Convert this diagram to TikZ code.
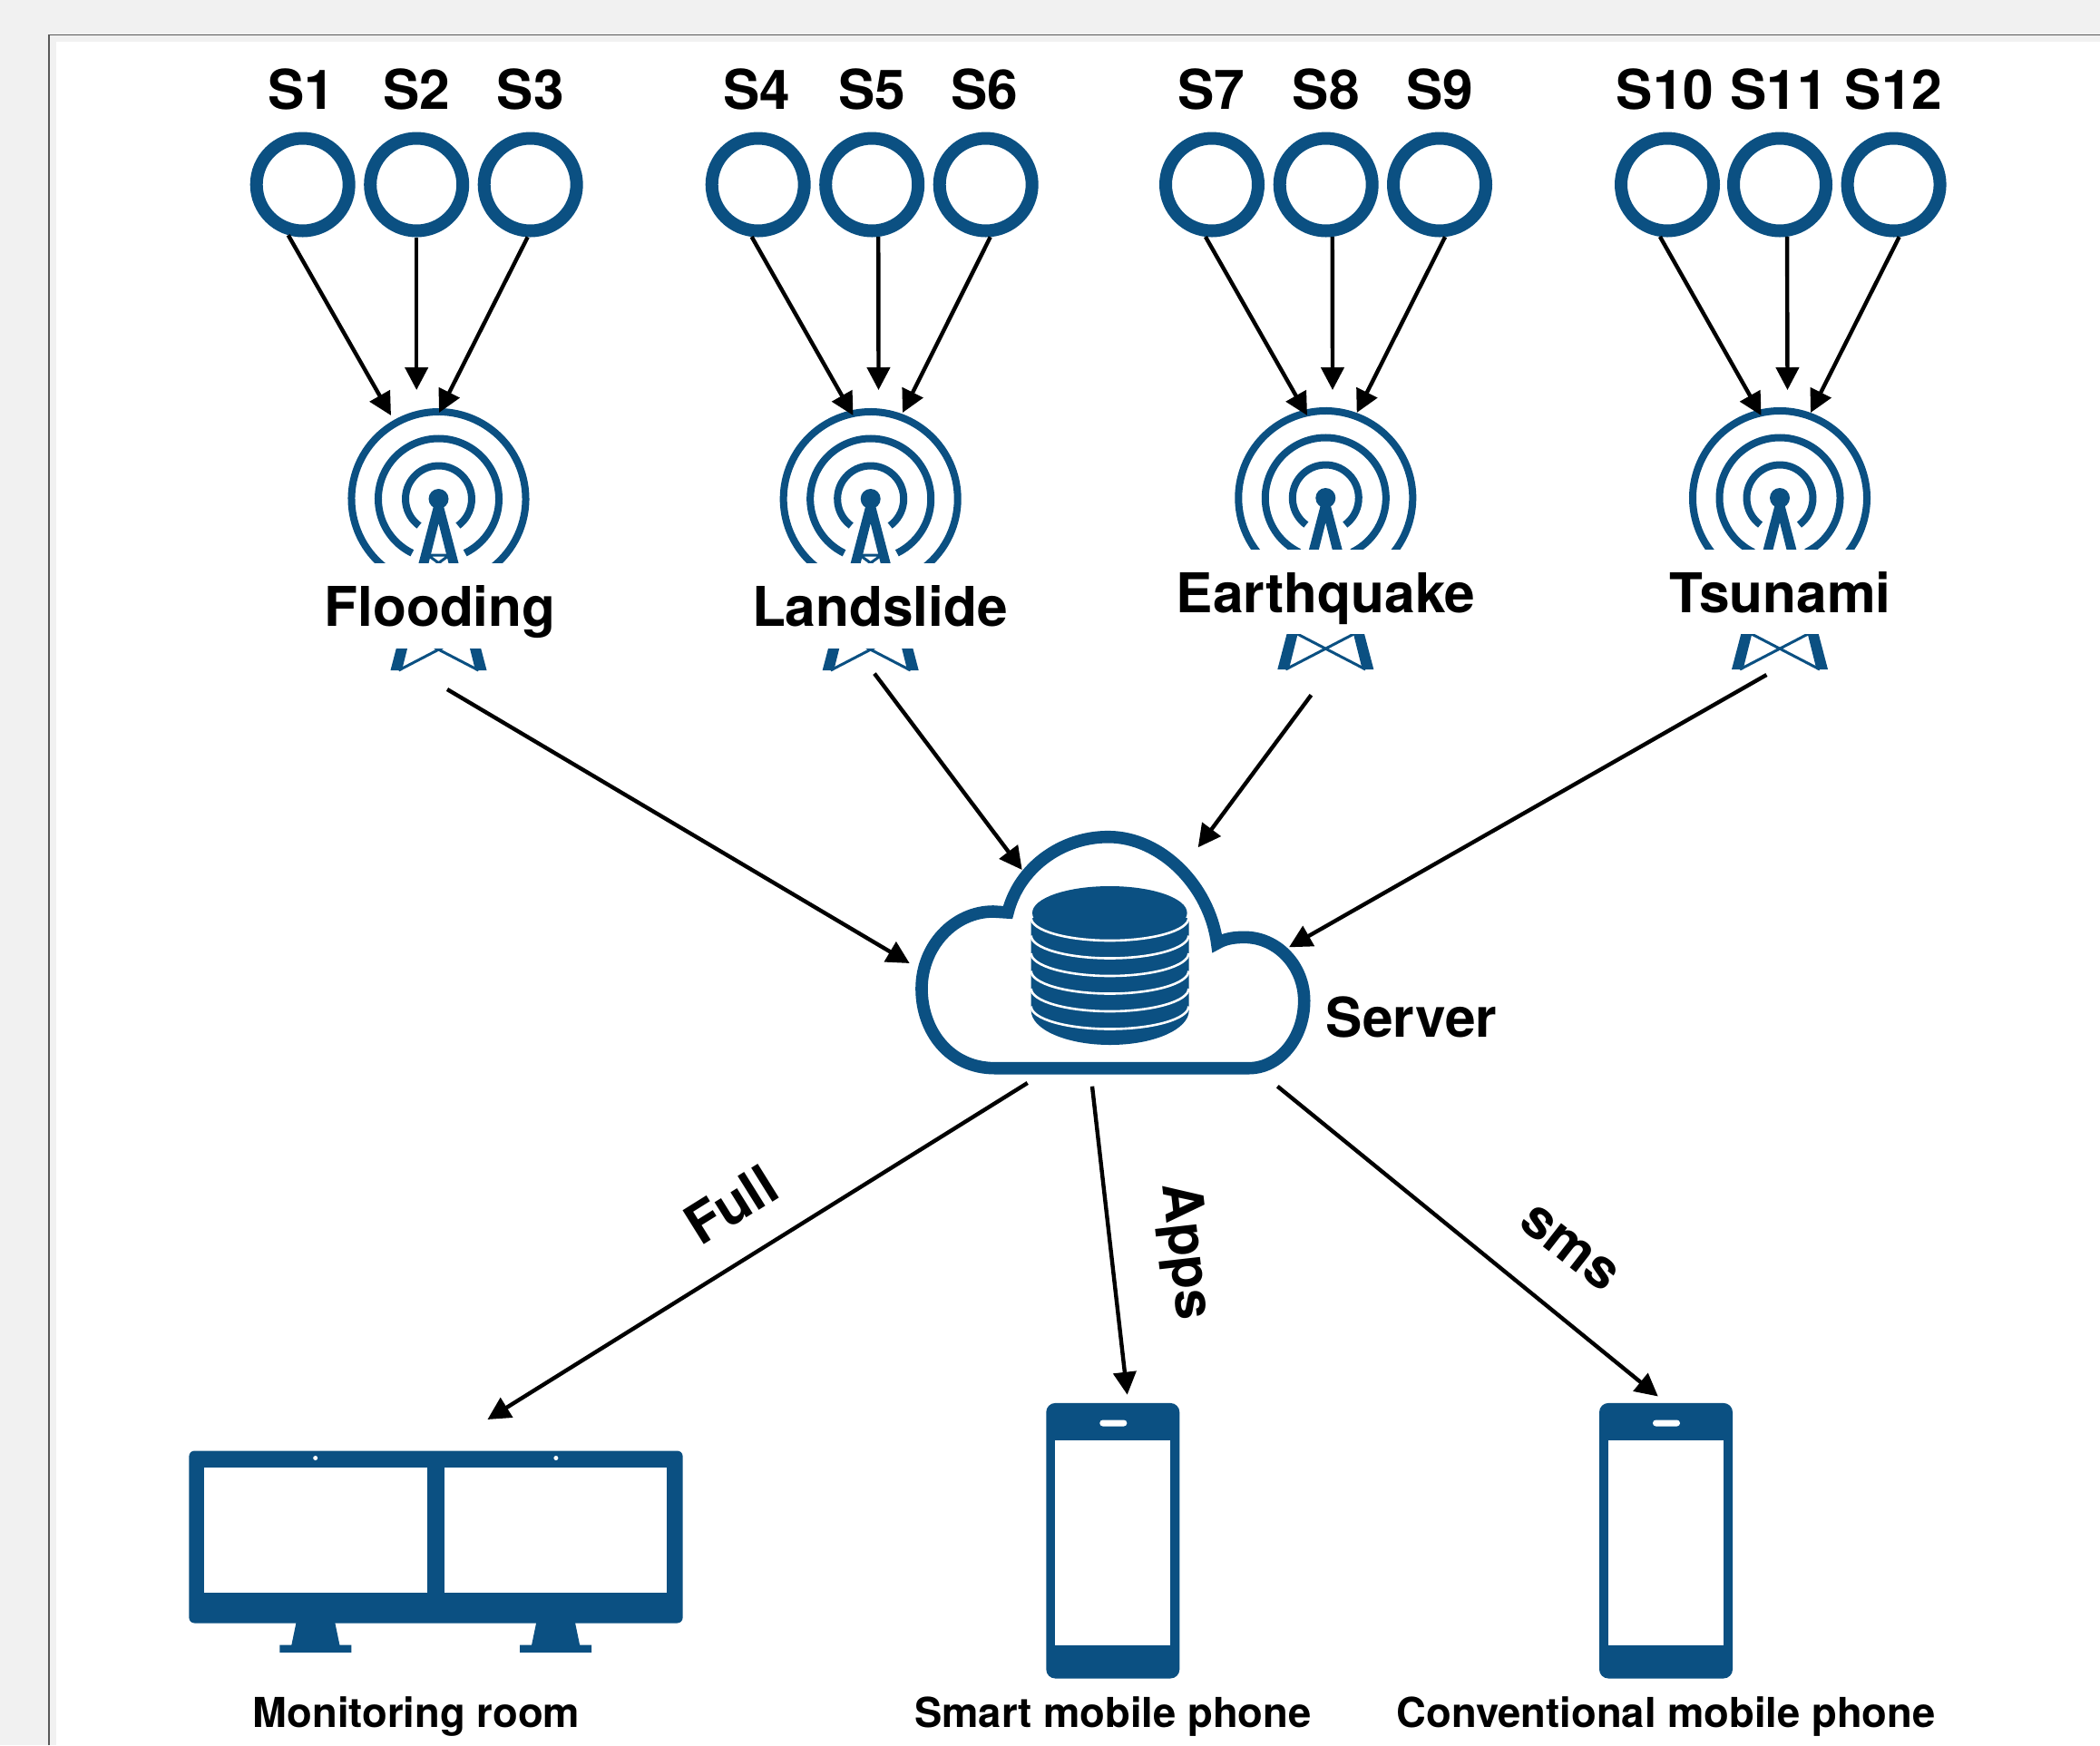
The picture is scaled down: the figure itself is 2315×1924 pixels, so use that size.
\documentclass[tikz,border=0pt]{standalone}
\usepackage{fontspec}
\setmainfont{TeX Gyre Heros}
\usetikzlibrary{arrows.meta}
\definecolor{iconblue}{HTML}{0B5082}
\definecolor{pagegray}{HTML}{F1F1F1}
\definecolor{framegray}{HTML}{5A5A5A}
\tikzset{
  sensor/.style={circle,draw=iconblue,line width=7pt,minimum size=51pt,inner sep=0pt,fill=white},
  ghost/.style={circle,minimum size=100pt,inner sep=0pt},
  bigtext/.style={font=\fontsize{30.2}{32}\selectfont\bfseries,inner sep=0pt,text=black},
  smalltext/.style={font=\fontsize{22.7}{25}\selectfont\bfseries,inner sep=0pt,text=black,anchor=base},
  link/.style={line width=2.2pt,draw=black,-{Triangle[length=12.5pt,width=12.5pt]}},
  ring/.style={draw=iconblue,line width=4pt},
  brace/.style={draw=iconblue,line width=1.5pt},
}
\newcommand{\towericon}[4]{% x, y, white-from, white-to (relative)
\begin{scope}[shift={(#1,#2)}]
  \draw[ring] (126:36.5) arc[start angle=126,end angle=414,radius=36.5];
  \draw[ring] (116:66.5) arc[start angle=116,end angle=424,radius=66.5];
  \draw[ring] (108:96) arc[start angle=108,end angle=432,radius=96];
  \fill[iconblue] (0,0) circle[radius=11];
  \fill[iconblue] (-5.5,8) -- (5.5,8) -- (53,189) -- (40.5,189) -- (0,27) -- (-40.5,189) -- (-53,189) -- cycle;
  \draw[brace] (-13,62) -- (13,62) (-12,62) -- (13,80) (12,62) -- (-13,80);
  \draw[brace] (-33,149) -- (44,189) (33,149) -- (-44,189);
  \fill[white] (-115,#3) rectangle (115,#4);
\end{scope}}
\newcommand{\phoneicon}[1]{% left x
\begin{scope}[shift={(#1,1546.9)}]
  \fill[iconblue,rounded corners=5pt] (0,0) rectangle (147,303.6);
  \fill[white] (10,41) rectangle (137,266.6);
  \fill[white,rounded corners=1.7pt] (59,18.6) rectangle (89,25.6);
\end{scope}}
\newcommand{\standicon}[1]{% centre x
\fill[iconblue] (#1-21,1787) -- (#1+21,1787) -- (#1+26.5,1813.5) -- (#1+39.5,1813.5) -- (#1+39.5,1821.9) -- (#1-39.5,1821.9) -- (#1-39.5,1813.5) -- (#1-26.5,1813.5) -- cycle;}
\begin{document}
\begin{tikzpicture}[x=0.5pt,y=-0.5pt]
\useasboundingbox (0,0) rectangle (2315,1924);
\fill[pagegray] (0,0) rectangle (2315,1924);
\fill[white] (62,46) rectangle (2315,1924);
\draw[framegray,line width=0.9pt] (54,1924) -- (54,38.5) -- (2315,38.5);

% sensors
\foreach \nm/\xx/\lx/\txt in {s1/333.7/332.5/S1,s2/459.2/459.2/S2,s3/584.7/584.7/S3,
  s4/835.7/834.5/S4,s5/961.2/961.2/S5,s6/1086.7/1085.5/S6,
  s7/1336/1335/S7,s8/1461.7/1461.7/S8,s9/1587/1587/S9,
  s10/1838/1835.5/S10,s11/1962/1961/S11,s12/2087.6/2087.6/S12}{
  \node[sensor] (\nm) at (\xx,203.5) {};
  \node[bigtext,anchor=base] (l\nm) at (\lx,120) {\txt};
}

% towers
\towericon{483.5}{550}{71}{164.5}
\towericon{959.7}{550}{71}{164.5}
\towericon{1461.3}{549}{56.5}{150}
\towericon{1962}{549}{56.5}{150}
\node[ghost] (t1) at (483.5,550) {};
\node[ghost] (t2) at (959.7,550) {};
\node[ghost] (t3) at (1461.3,549) {};
\node[ghost] (t4) at (1962,549) {};
\node[bigtext,anchor=base] (flood) at (485,690) {Flooding};
\node[bigtext,anchor=base] (land) at (970,690) {Landslide};
\node[bigtext,anchor=base] (earth) at (1461.7,675) {Earthquake};
\node[bigtext,anchor=base] (tsun) at (1962.5,675) {Tsunami};

% cloud
\draw[iconblue,line width=6.8pt,line join=miter,fill=white] (1096.7,1177.7)
  .. controls (1046.7,1177.7) and (1016,1136.7) .. (1016,1090)
  .. controls (1016,1043) and (1051.7,1005) .. (1095,1005)
  -- (1111,1006)
  .. controls (1123.3,956.7) and (1170,922.7) .. (1221.7,922.7)
  .. controls (1280,922.7) and (1333.3,976.7) .. (1341.7,1040)
  .. controls (1350,1035) and (1360,1033.3) .. (1371.7,1033.3)
  .. controls (1408.3,1033.3) and (1437.7,1065) .. (1437.7,1103.3)
  .. controls (1437.7,1145) and (1410,1177.7) .. (1376.7,1177.7)
  -- cycle;
\node[inner sep=0pt,minimum width=211pt,minimum height=127pt] (server) at (1227,1050) {};
% database
\fill[iconblue] (1136.7,1012) -- (1136.7,1114) arc[start angle=180,end angle=0,x radius=87,y radius=38] -- (1310.7,1012) -- cycle;
\fill[iconblue] (1223.3,1006.5) circle[x radius=85.3,y radius=29.5];
\foreach \yy in {1012,1031.5,1051,1070.5,1090,1109.5}{
  \draw[white,line width=1.3pt] (1136.7,\yy) arc[start angle=180,end angle=0,x radius=86.8,y radius=25];
}
\node[bigtext,anchor=base west] (srv) at (1461.5,1143) {Server};

% monitors
\fill[iconblue,rounded corners=3pt] (208.4,1599.5) rectangle (752.6,1789.5);
\fill[white] (225.2,1617.9) rectangle (470.5,1756.2);
\fill[white] (490.4,1617.9) rectangle (735.4,1756.2);
\fill[white] (347.7,1607.5) circle[radius=2.5];
\fill[white] (612.9,1607.5) circle[radius=2.5];
\standicon{347.9}
\standicon{612.6}
\node[smalltext] (mon) at (459,1904.3) {Monitoring room};
\coordinate (monitor) at (480,1690);

% phones
\phoneicon{1153.3}
\phoneicon{1763}
\node[smalltext] (smart) at (1227,1904.3) {Smart mobile phone};
\node[smalltext] (conv) at (1836.6,1904.3) {Conventional mobile phone};

% sensor to tower links
\coordinate (a1) at (431,458);   \coordinate (a2) at (459.2,430); \coordinate (a3) at (484,455);
\coordinate (a4) at (940.5,458); \coordinate (a5) at (968.5,430); \coordinate (a6) at (995,455);
\coordinate (a7) at (1441,458);  \coordinate (a8) at (1469,430);  \coordinate (a9) at (1495.7,455);
\coordinate (a10) at (1941.5,458); \coordinate (a11) at (1970.5,430); \coordinate (a12) at (1996,455);
\draw[link] (s1.-106) -- (a1);
\draw[link] (s2.-90) -- (a2);
\draw[link] (s3.-93) -- (a3);
\draw[link] (s4.-97) -- (a4);
\draw[link] (s5.-83) -- (a5);
\draw[link] (s6.-85) -- (a6);
\draw[link] (s7.-97) -- (a7);
\draw[link] (s8.-83) -- (a8);
\draw[link] (s9.-84) -- (a9);
\draw[link] (s10.-98) -- (a10);
\draw[link] (s11.-82) -- (a11);
\draw[link] (s12.-84) -- (a12);

% tower to server
\coordinate (b1) at (493,760);     \coordinate (c1) at (1002.7,1062);
\coordinate (b2) at (964,742.6);   \coordinate (c2) at (1126.7,959);
\coordinate (b3) at (1445.4,766.3);\coordinate (c3) at (1320.7,934.3);
\coordinate (b4) at (1947.4,744);  \coordinate (c4) at (1421,1044.3);
\draw[link] (b1) -- (c1);
\draw[link] (b2) -- (c2);
\draw[link] (b3) -- (c3);
\draw[link] (b4) -- (c4);

% server to clients
\coordinate (d1) at (1132.7,1194);   \coordinate (e1) at (537.4,1565);
\coordinate (d2) at (1204,1197.7);   \coordinate (e2) at (1242.7,1537.7);
\coordinate (d3) at (1408.3,1197.7); \coordinate (e3) at (1827.8,1539.5);
\draw[link] (d1) -- (e1);
\draw[link] (d2) -- (e2);
\draw[link] (d3) -- (e3);

\node[bigtext,rotate=32] (full) at (806,1328) {Full};
\node[bigtext,rotate=-83.5] (apps) at (1305,1380) {Apps};
\node[bigtext,rotate=-38] (sms) at (1730,1376) {sms};
\end{tikzpicture}
\end{document}
